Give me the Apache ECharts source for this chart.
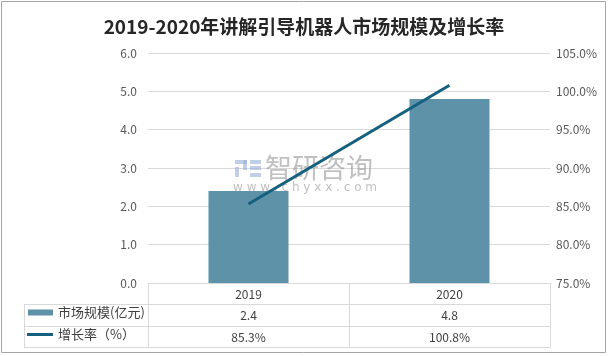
<!DOCTYPE html>
<html>
<head>
<meta charset="utf-8">
<script src="https://cdn.jsdelivr.net/npm/echarts@6/dist/echarts.min.js"></script>
<style>
html,body{margin:0;padding:0;background:#fff;}
#main{width:608px;height:356px;}
</style>
</head>
<body>
<div id="main"></div>
<script>
var titleText = '2019-2020年讲解引导机器人市场规模及增长率';
var years = ['2019', '2020'];
var barName = '市场规模(亿元)';
var lineName = '增长率（%）';
var marketSize = [2.4, 4.8];
var growthRate = [85.3, 100.8];

var barColor = '#5e92a8';
var lineColor = '#15607f';
var gridColor = '#d9d9d9';
var textColor = '#404040';
var axisTextColor = '#595959';
var font = '"Noto Sans CJK SC", "Noto Sans", sans-serif';

var chart = echarts.init(document.getElementById('main'), null, {renderer: 'canvas'});

function tableAxis(labels, offset, showLabel) {
  return {
    type: 'category',
    position: 'bottom',
    offset: offset,
    data: labels,
    axisLine: {show: true, lineStyle: {color: gridColor, width: 1}},
    axisTick: {show: false},
    axisLabel: {show: showLabel, margin: 5, color: textColor, fontSize: 12, fontFamily: font},
    splitLine: {show: false}
  };
}

var wm = 'rgba(150,175,215,0.6)';
var option = {
  backgroundColor: '#fff',
  animation: false,
  title: {
    text: titleText,
    left: 'center',
    top: 12,
    textStyle: {fontSize: 19, fontWeight: 'bold', color: '#262626', fontFamily: font}
  },
  legend: [
    {
      data: [barName], left: 28, top: 306, padding: 0,
      itemWidth: 25, itemHeight: 6, icon: 'rect',
      textStyle: {fontSize: 13, color: textColor, fontFamily: font}
    },
    {
      data: [lineName], left: 27, top: 328, padding: 0,
      itemWidth: 26, itemHeight: 3, icon: 'rect',
      textStyle: {fontSize: 13, color: textColor, fontFamily: font}
    }
  ],
  grid: {left: 148, right: 58, top: 53, bottom: 73, containLabel: false},
  xAxis: [
    {
      type: 'category',
      data: years,
      position: 'bottom',
      axisLine: {show: true, lineStyle: {color: gridColor}},
      axisTick: {show: true, length: 64, lineStyle: {color: gridColor}},
      axisLabel: {margin: 5, color: textColor, fontSize: 12, fontFamily: font}
    },
    tableAxis(marketSize.map(function (v) { return v.toFixed(1); }), 21, true),
    tableAxis(growthRate.map(function (v) { return v.toFixed(1) + '%'; }), 43, true),
    tableAxis(years, 64, false)
  ],
  yAxis: [
    {
      type: 'value', min: 0, max: 6, interval: 1,
      axisLine: {show: false}, axisTick: {show: false},
      axisLabel: {margin: 11, color: axisTextColor, fontSize: 12, fontFamily: font,
        formatter: function (v) { return v.toFixed(1); }},
      splitLine: {lineStyle: {color: gridColor}}
    },
    {
      type: 'value', min: 75, max: 105, interval: 5,
      axisLine: {show: false}, axisTick: {show: false},
      axisLabel: {margin: 6, color: axisTextColor, fontSize: 12, fontFamily: font,
        formatter: function (v) { return v.toFixed(1) + '%'; }},
      splitLine: {show: false}
    }
  ],
  series: [
    {
      name: barName, type: 'bar', data: marketSize, barWidth: 80,
      itemStyle: {color: barColor}, z: 2
    },
    {
      name: lineName, type: 'line', yAxisIndex: 1, data: growthRate,
      symbol: 'none', lineStyle: {color: lineColor, width: 3},
      itemStyle: {color: lineColor}, z: 5
    }
  ],
  graphic: [
    {type: 'rect', shape: {x: 1.5, y: 1.5, width: 604, height: 351},
      style: {fill: null, stroke: '#a6a6a6', lineWidth: 1}, silent: true},
    {type: 'line', shape: {x1: 24, y1: 304.5, x2: 148, y2: 304.5}, style: {stroke: gridColor, lineWidth: 1}},
    {type: 'line', shape: {x1: 24, y1: 326.5, x2: 148, y2: 326.5}, style: {stroke: gridColor, lineWidth: 1}},
    {type: 'line', shape: {x1: 24, y1: 347.5, x2: 148, y2: 347.5}, style: {stroke: gridColor, lineWidth: 1}},
    {type: 'line', shape: {x1: 24.5, y1: 304, x2: 24.5, y2: 348}, style: {stroke: gridColor, lineWidth: 1}},
    {type: 'rect', z: 1, silent: true, shape: {x: 235, y: 160, width: 12, height: 4}, style: {fill: wm}},
    {type: 'rect', z: 1, silent: true, shape: {x: 243, y: 160, width: 4, height: 10}, style: {fill: wm}},
    {type: 'rect', z: 1, silent: true, shape: {x: 235, y: 167, width: 4, height: 10}, style: {fill: wm}},
    {type: 'rect', z: 1, silent: true, shape: {x: 250, y: 160, width: 11, height: 4}, style: {fill: wm}},
    {type: 'rect', z: 1, silent: true, shape: {x: 250, y: 166, width: 11, height: 4}, style: {fill: wm}},
    {type: 'rect', z: 1, silent: true, shape: {x: 250, y: 173, width: 11, height: 4}, style: {fill: wm}},
    {type: 'text', z: 1, silent: true, x: 265, y: 154,
      style: {text: '智研咨询', font: '27px "Noto Sans CJK SC"', fill: 'rgba(140,140,140,0.55)'}},
    {type: 'text', z: 1, silent: true, x: 233, y: 182,
      style: {text: 'w w w . c h y x x . c o m', font: '12px "DejaVu Sans"', fill: 'rgba(140,140,140,0.55)'}}
  ]
};
chart.setOption(option);
</script>
</body>
</html>
